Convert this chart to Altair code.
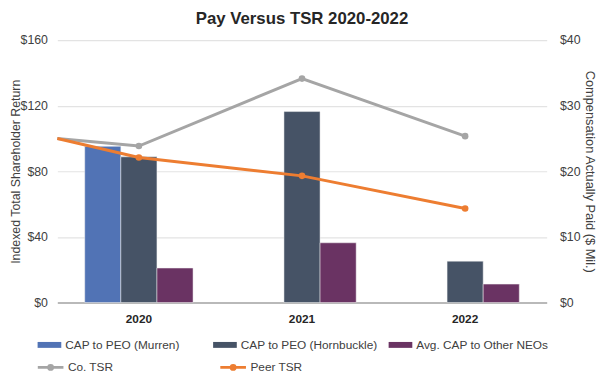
import altair as alt
import pandas as pd

# ---- data ----
years = ["2020", "2021", "2022"]
bar_series = ["CAP to PEO (Murren)", "CAP to PEO (Hornbuckle)", "Avg. CAP to Other NEOs"]
cap_murren = [23.8, None, None]
cap_hornbuckle = [22.2, 29.1, 6.3]
cap_other_neos = [5.25, 9.1, 2.8]

line_series = ["Co. TSR", "Peer TSR"]
# measurement times: start of period (base = $100), then each year
tsr_time = [2019.5, 2020, 2021, 2022]
co_tsr = [100, 95.4, 136.5, 101.4]
peer_tsr = [100, 88.4, 77.2, 57.3]

bar_colors = ["#5173B5", "#465366", "#6A3363"]
line_colors = ["#A5A5A5", "#ED7D31"]

FONT = "Liberation Sans"

bars_rows = []
for name, vals in zip(bar_series, [cap_murren, cap_hornbuckle, cap_other_neos]):
    for y, v in zip(years, vals):
        if v is not None:
            bars_rows.append({"year": y, "series": name, "value": v})
bars_df = pd.DataFrame(bars_rows)

line_rows = []
for name, vals in zip(line_series, [co_tsr, peer_tsr]):
    for t, v in zip(tsr_time, vals):
        line_rows.append({"t": t, "series": name, "tsr": v, "marker": t >= 2020})
lines_df = pd.DataFrame(line_rows)

bars = alt.Chart(bars_df).mark_bar(stroke="#F2F2F2", strokeWidth=0.5).encode(
    x=alt.X("year:N", sort=years,
            scale=alt.Scale(domain=years, paddingInner=0.336, paddingOuter=0.168),
            axis=alt.Axis(title=None, labelAngle=0, labelFontWeight="bold", labelFont=FONT,
                          labelFontSize=12, labelColor="#262626", ticks=False,
                          domainColor="#A6A6A6", domainWidth=1.5, labelPadding=11)),
    xOffset=alt.XOffset("series:N", sort=bar_series,
                        scale=alt.Scale(domain=bar_series, paddingInner=0, paddingOuter=0)),
    y=alt.Y("value:Q", scale=alt.Scale(domain=[0, 40], nice=False),
            axis=alt.Axis(orient="right", values=[0, 10, 20, 30, 40], format="$,.0f",
                          title="Compensation Actually Paid ($ Mil.)", grid=True,
                          gridColor="#E3E3E3", gridWidth=1.2, ticks=False, domain=False,
                          labelFont=FONT, labelFontSize=12.5, labelColor="#404040",
                          labelPadding=13, titleFont=FONT, titleFontSize=13,
                          titleFontWeight="normal", titleColor="#404040",
                          titleAngle=90, titleX=39, titleY=133, titleAlign="center",
                          titleBaseline="alphabetic")),
    fill=alt.Fill("series:N", sort=bar_series,
                  scale=alt.Scale(domain=bar_series, range=bar_colors),
                  legend=alt.Legend(title=None, orient="none", legendX=-20, legendY=297,
                                    direction="horizontal", columns=3, gridAlign="all",
                                    columnPadding=10.9, padding=0,
                                    symbolType="M-1,-0.25H1V0.25H-1Z", symbolSize=576,
                                    symbolStrokeWidth=0, labelOffset=4,
                                    labelFont=FONT, labelFontSize=12, labelColor="#404040")),
)

tsr_x = alt.X("t:Q", scale=alt.Scale(domain=[2019.5, 2022.5], nice=False, zero=False), axis=None)
tsr_color = alt.Color("series:N", sort=line_series,
                      scale=alt.Scale(domain=line_series, range=line_colors),
                      legend=alt.Legend(title=None, orient="none", legendX=-21.3, legendY=317,
                                        direction="horizontal", columns=2, gridAlign="all",
                                        columnPadding=95, padding=0,
                                        symbolType="M-1,0H1M-0.15,0A0.15,0.15,0,1,1,0.15,0A0.15,0.15,0,1,1,-0.15,0Z",
                                        symbolSize=676, symbolStrokeWidth=3, labelOffset=3,
                                        labelFont=FONT, labelFontSize=12, labelColor="#404040"))

lines = alt.Chart(lines_df).mark_line(strokeWidth=3).encode(
    x=tsr_x,
    y=alt.Y("tsr:Q", scale=alt.Scale(domain=[0, 160], nice=False),
            axis=alt.Axis(orient="left", values=[0, 40, 80, 120, 160], format="$,.0f",
                          title="Indexed Total Shareholder Return", grid=False, ticks=False,
                          domain=False, labelFont=FONT, labelFontSize=12.5, labelColor="#404040",
                          labelPadding=10, titleFont=FONT, titleFontSize=12.5,
                          titleFontWeight="normal", titleColor="#404040",
                          titleAngle=270, titleX=-38.5, titleY=133, titleAlign="center",
                          titleBaseline="alphabetic")),
    color=tsr_color,
    order=alt.Order("t:Q"),
)

points = alt.Chart(lines_df).transform_filter("datum.marker").mark_circle(size=45, opacity=1).encode(
    x=tsr_x,
    y=alt.Y("tsr:Q", scale=alt.Scale(domain=[0, 160], nice=False), axis=None),
    color=tsr_color,
)

chart = alt.layer(bars, lines, points).resolve_scale(
    x="independent", y="independent"
).properties(
    width=496, height=266,
    title=alt.TitleParams("Pay Versus TSR 2020-2022", font=FONT, fontSize=17,
                          fontWeight="bold", color="#262626", anchor="middle", offset=6),
    autosize=alt.AutoSizeParams(type="none"),
    padding={"left": 50, "top": 30, "right": 51, "bottom": 70},
).configure_view(stroke=None)

chart.save("out.html", embed_options={"renderer": "svg", "actions": False})
